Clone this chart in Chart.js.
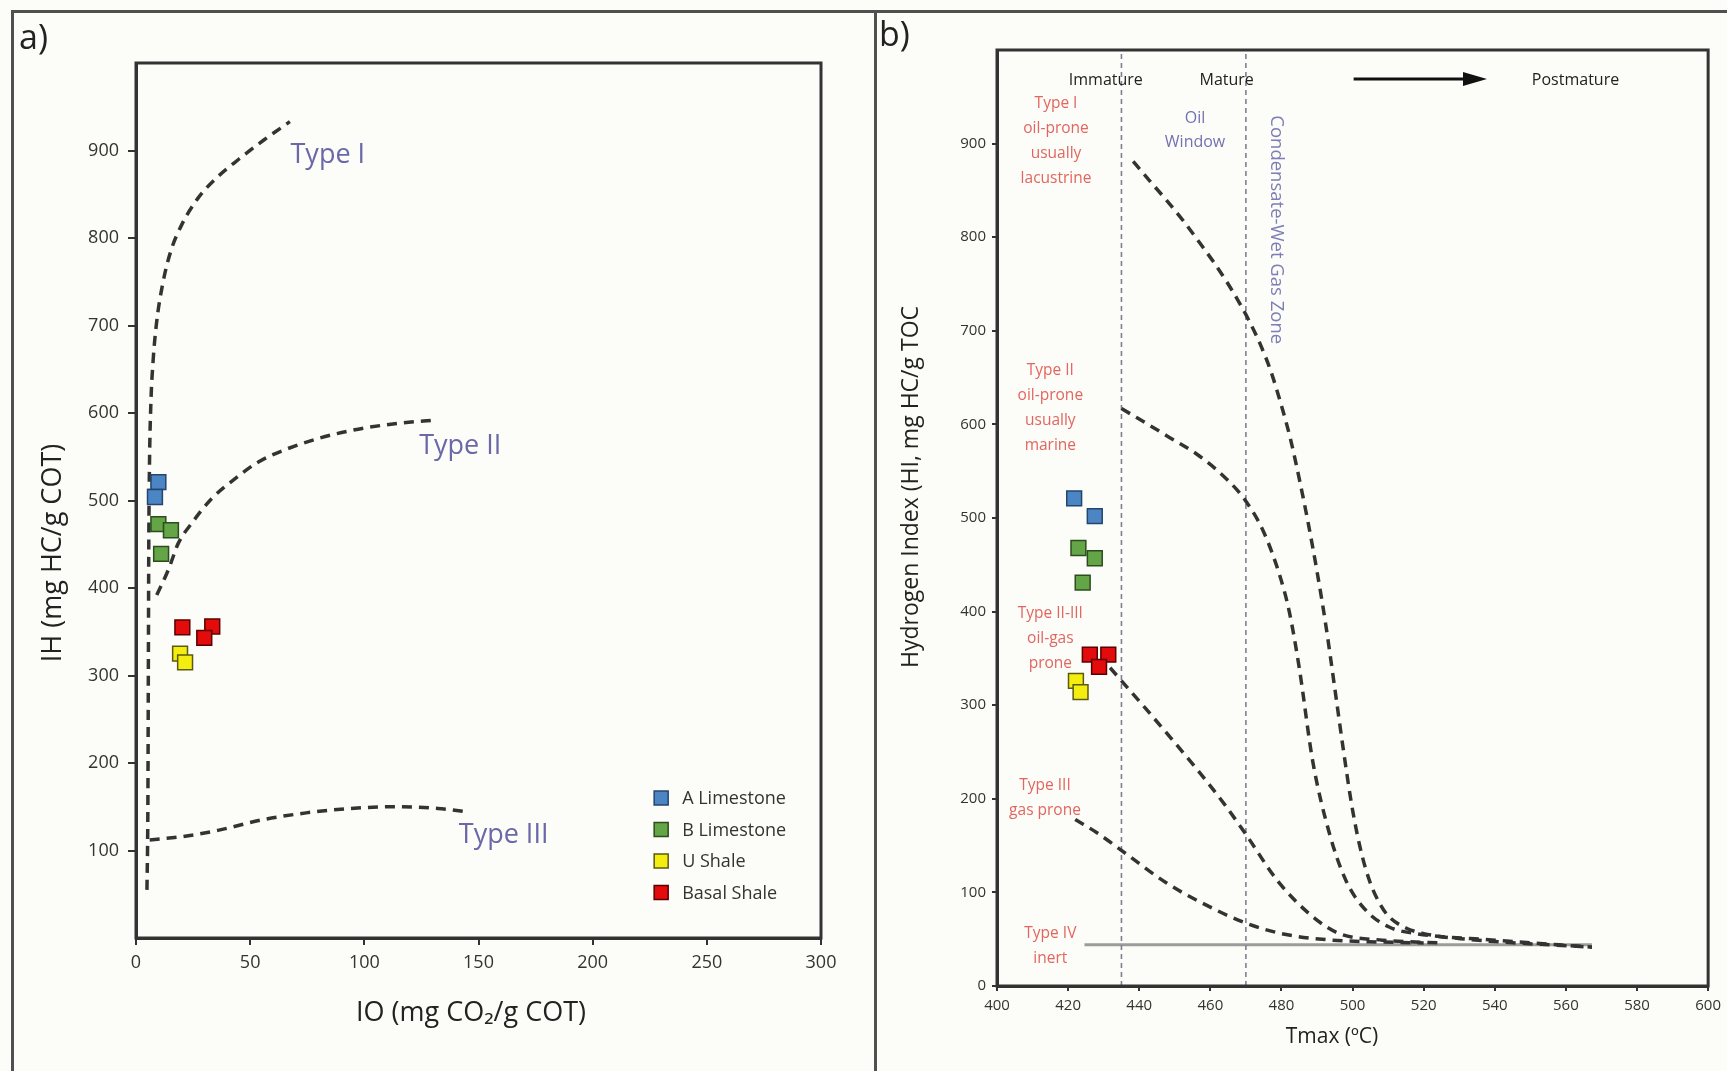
<!DOCTYPE html>
<html>
<head>
<meta charset="utf-8">
<script src="https://cdn.jsdelivr.net/npm/chart.js@4.4.1/dist/chart.umd.min.js"></script>
<style>
html, body { margin: 0; padding: 0; background: #fcfcf8; }
body { width: 1727px; height: 1071px; position: relative; overflow: hidden; font-family: "Open Sans", "Liberation Sans", sans-serif; }
#canvasA { position: absolute; left: 0; top: 0; }
#canvasB { position: absolute; left: 877px; top: 0; }
.rule { position: absolute; background: #505050; }
.plabel { position: absolute; font-size: 34px; line-height: 34px; color: #222; }
</style>
</head>
<body>
<canvas id="canvasA" width="874" height="1071"></canvas>
<canvas id="canvasB" width="850" height="1071"></canvas>
<div class="rule" style="left:11px;top:10px;width:1716px;height:3px;"></div>
<div class="rule" style="left:11px;top:10px;width:3px;height:1061px;"></div>
<div class="rule" style="left:874px;top:10px;width:3px;height:1061px;"></div>
<div class="plabel" style="left:19px;top:19px;">a)</div>
<div class="plabel" style="left:879px;top:16px;">b)</div>
<script>
// ================= DATA =================
const seriesNames = ['A Limestone', 'B Limestone', 'U Shale', 'Basal Shale'];

// Panel a: IH vs IO
const aLimestoneIO = [9.8, 8.3];
const aLimestoneIH = [521, 504];
const bLimestoneIO = [9.8, 15.3, 11.0];
const bLimestoneIH = [473, 466, 439];
const uShaleIO = [19.3, 21.5];
const uShaleIH = [325, 315];
const basalShaleIO = [20.3, 33.4, 29.9];
const basalShaleIH = [355, 356, 343];

const typeI_IO = [4.8, 5.2, 5.4, 5.6, 5.9, 6.5, 7.5, 9.0, 11.5, 15.0, 20.0, 27.0, 35.0, 45.0, 56.0, 67.4];
const typeI_IH = [55, 150, 300, 450, 540, 610, 660, 703, 745, 783, 815, 845, 868, 890, 912, 933];
const typeII_IO = [9.1, 14.2, 18.5, 24.4, 33.1, 43.4, 53.6, 70.4, 92.3, 114.2, 131.7];
const typeII_IH = [392, 421, 451, 474, 502, 525, 544, 563, 579, 588, 592];
const typeIII_IO = [6.0, 20.5, 35.9, 55.2, 74.5, 93.7, 113.0, 132.3, 145.9];
const typeIII_IH = [112, 116, 123, 135, 143, 148, 150, 148, 144];

const ioTicks = [0, 50, 100, 150, 200, 250, 300];
const ihTicks = [100, 200, 300, 400, 500, 600, 700, 800, 900];

// Panel b: HI vs Tmax
const aLimestoneTmax = [421.7, 427.5];
const aLimestoneHI = [521, 502];
const bLimestoneTmax = [422.9, 427.5, 424.1];
const bLimestoneHI = [468, 457, 431];
const uShaleTmax = [422.2, 423.5];
const uShaleHI = [326, 314];
const basalShaleTmax = [426.1, 431.3, 428.7];
const basalShaleHI = [354, 354, 341];

const curveI_Tmax = [438.3, 443.0, 448.0, 452.5, 457.0, 461.0, 465.0, 468.0, 471.0, 474.0, 477.0, 480.0, 482.5, 485.0, 487.5, 490.0, 492.5, 495.0, 497.5, 500.0, 502.5, 505.0, 507.5, 510.0, 515.0, 520.0, 532.0, 567.3];
const curveI_HI = [881, 860, 838, 817, 794, 773, 750, 731, 710, 686, 657, 620, 585, 542, 495, 443, 385, 318, 250, 188, 142, 110, 89, 75, 62, 56, 50, 41.5];
const curveII_Tmax = [435.0, 447.7, 457.0, 465.0, 470.0, 475.0, 479.4, 482.2, 485.0, 488.8, 493.5, 498.1, 503.7, 510.3, 517.8, 540.0, 567.3];
const curveII_HI = [617, 588, 566, 540, 518, 485, 440, 400, 340, 240, 163, 113, 81, 63, 56, 49, 41.5];
const curveIIIII_Tmax = [431.8, 441.0, 450.0, 457.0, 464.0, 470.0, 479.0, 488.8, 496.3, 508.4, 525.0];
const curveIIIII_HI = [340, 300, 260, 228, 194, 162, 112, 74, 56, 49, 46];
const curveIII_Tmax = [422.0, 428.0, 434.6, 447.7, 457.0, 470.1, 481.3, 494.4, 508.0, 520.0];
const curveIII_HI = [178, 164, 146, 110, 90, 67, 55, 49, 47, 46];
const typeIV_Tmax = [424.6, 567.3];
const typeIV_HI = [44, 44];
const zoneBoundsTmax = [435, 470];
const hiRange = [0, 1000];

const tmaxTicks = [400, 420, 440, 460, 480, 500, 520, 540, 560, 580, 600];
const hiTicks = [0, 100, 200, 300, 400, 500, 600, 700, 800, 900];

// ================= HELPERS =================
const FONT = '"Open Sans", "Liberation Sans", sans-serif';
Chart.defaults.font.family = FONT;
const pts = (xs, ys) => xs.map((x, i) => ({ x: x, y: ys[i] }));

const colors = [
  { fill: '#4c85c4', edge: '#24456e' },
  { fill: '#63a547', edge: '#2c4d1c' },
  { fill: '#f4ee10', edge: '#5a5a10' },
  { fill: '#e30b0b', edge: '#5a0000' }
];

function sampleSet(i, xs, ys) {
  return {
    label: seriesNames[i], data: pts(xs, ys), showLine: false,
    pointStyle: 'rect', pointRadius: 10.5, pointHoverRadius: 10.5,
    backgroundColor: colors[i].fill, borderColor: colors[i].edge, borderWidth: 1.5, order: 0
  };
}
function curveSet(label, xs, ys, extra) {
  return Object.assign({
    label: label, data: pts(xs, ys), showLine: true, pointRadius: 0, pointHoverRadius: 0,
    borderColor: '#333', borderWidth: 3.5, borderDash: [10, 7], cubicInterpolationMode: 'monotone',
    fill: false, order: 2
  }, extra || {});
}

const frameBox = {
  id: 'frameBox',
  afterDraw(chart, args, o) {
    const { ctx, chartArea: a } = chart;
    ctx.save();
    ctx.strokeStyle = o.color; ctx.lineWidth = o.width;
    ctx.strokeRect(a.left, a.top, a.right - a.left, a.bottom - a.top);
    ctx.restore();
  }
};

const textLayer = {
  id: 'textLayer',
  afterDraw(chart, args, o) {
    const ctx = chart.ctx, xs = chart.scales.x, ys = chart.scales.y;
    (o.items || []).forEach(t => {
      ctx.save();
      ctx.font = `${t.size}px ${FONT}`;
      ctx.fillStyle = t.color; ctx.textAlign = 'center'; ctx.textBaseline = 'middle';
      const px = t.px != null ? t.px : xs.getPixelForValue(t.x);
      const py = t.py != null ? t.py : ys.getPixelForValue(t.y);
      ctx.translate(px, py);
      if (t.rot) ctx.rotate(t.rot);
      t.lines.forEach((l, i) => ctx.fillText(l, 0, i * (t.lh || 0)));
      ctx.restore();
    });
    (o.arrows || []).forEach(a => {
      const x0 = xs.getPixelForValue(a.x0), x1 = xs.getPixelForValue(a.x1), y = ys.getPixelForValue(a.y);
      ctx.save();
      ctx.strokeStyle = a.color; ctx.fillStyle = a.color; ctx.lineWidth = a.width;
      ctx.beginPath(); ctx.moveTo(x0, y); ctx.lineTo(x1 - 20, y); ctx.stroke();
      ctx.beginPath(); ctx.moveTo(x1, y); ctx.lineTo(x1 - 24, y - 7); ctx.lineTo(x1 - 24, y + 7); ctx.closePath(); ctx.fill();
      ctx.restore();
    });
    if (o.legend) {
      const L = o.legend;
      const lx = xs.getPixelForValue(L.x), ly = ys.getPixelForValue(L.y);
      ctx.save();
      ctx.font = `${L.size}px ${FONT}`; ctx.textAlign = 'left'; ctx.textBaseline = 'middle';
      L.datasets.forEach((di, i) => {
        const ds = chart.data.datasets[di];
        const cy = ly + i * L.gap;
        ctx.fillStyle = ds.backgroundColor; ctx.strokeStyle = ds.borderColor; ctx.lineWidth = 1.5;
        ctx.fillRect(lx - L.box / 2, cy - L.box / 2, L.box, L.box);
        ctx.strokeRect(lx - L.box / 2, cy - L.box / 2, L.box, L.box);
        ctx.fillStyle = '#333';
        ctx.fillText(ds.label, lx + 21, cy + 1);
      });
      ctx.restore();
    }
  }
};

function axisX(min, max, tickVals, fontSize, tickLen, pad, height) {
  return {
    type: 'linear', min: min, max: max,
    afterBuildTicks: s => { s.ticks = tickVals.map(v => ({ value: v })); },
    afterFit: s => { s.height = height; },
    ticks: { autoSkip: false, maxRotation: 0, color: '#333', padding: pad, font: { size: fontSize } },
    grid: { drawOnChartArea: false, drawTicks: true, tickLength: tickLen, color: '#333', lineWidth: 2 },
    border: { display: true, color: '#333', width: 3 }
  };
}
function axisY(min, max, tickVals, fontSize, tickLen, pad, width) {
  return {
    type: 'linear', min: min, max: max,
    afterBuildTicks: s => { s.ticks = tickVals.map(v => ({ value: v })); },
    afterFit: s => { s.width = width; },
    ticks: { autoSkip: false, color: '#333', padding: pad, font: { size: fontSize } },
    grid: { drawOnChartArea: false, drawTicks: true, tickLength: tickLen, color: '#333', lineWidth: 2 },
    border: { display: true, color: '#333', width: 3 }
  };
}

// ================= CHART A =================
new Chart(document.getElementById('canvasA'), {
  type: 'scatter',
  data: {
    datasets: [
      sampleSet(0, aLimestoneIO, aLimestoneIH),
      sampleSet(1, bLimestoneIO, bLimestoneIH),
      sampleSet(2, uShaleIO, uShaleIH),
      sampleSet(3, basalShaleIO, basalShaleIH),
      curveSet('Type I', typeI_IO, typeI_IH),
      curveSet('Type II', typeII_IO, typeII_IH),
      curveSet('Type III', typeIII_IO, typeIII_IH)
    ]
  },
  options: {
    responsive: false, animation: false, devicePixelRatio: 1,
    layout: { padding: { left: 0, right: 53, top: 63, bottom: 33 } },
    scales: {
      x: axisX(0, 300, ioTicks, 18, 7, 7, 100),
      y: axisY(0, 1000, ihTicks, 18, 8, 9, 136)
    },
    plugins: {
      legend: { display: false }, tooltip: { enabled: false },
      frameBox: { color: '#333', width: 3 },
      textLayer: {
        items: [
          { x: 84, y: 895, lines: ['Type I'], size: 27, color: '#6a68a8' },
          { x: 142, y: 562, lines: ['Type II'], size: 27, color: '#6a68a8' },
          { x: 161, y: 117, lines: ['Type III'], size: 27, color: '#6a68a8' },
          { px: 471, py: 1013, lines: ['IO (mg CO\u2082/g COT)'], size: 27, color: '#222' },
          { px: 53, py: 553, rot: -Math.PI / 2, lines: ['IH (mg HC/g COT)'], size: 27, color: '#222' }
        ],
        legend: { x: 230, y: 160, gap: 31.5, box: 14, size: 18, datasets: [0, 1, 2, 3] }
      }
    }
  },
  plugins: [frameBox, textLayer]
});

// ================= CHART B =================
const boundStyle = { borderColor: '#7b8192', borderWidth: 1.6, borderDash: [5, 4], cubicInterpolationMode: 'default', tension: 0, order: 3 };
new Chart(document.getElementById('canvasB'), {
  type: 'scatter',
  data: {
    datasets: [
      sampleSet(0, aLimestoneTmax, aLimestoneHI),
      sampleSet(1, bLimestoneTmax, bLimestoneHI),
      sampleSet(2, uShaleTmax, uShaleHI),
      sampleSet(3, basalShaleTmax, basalShaleHI),
      curveSet('Type I', curveI_Tmax, curveI_HI),
      curveSet('Type II', curveII_Tmax, curveII_HI),
      curveSet('Type II-III', curveIIIII_Tmax, curveIIIII_HI),
      curveSet('Type III', curveIII_Tmax, curveIII_HI),
      curveSet('Type IV', typeIV_Tmax, typeIV_HI, { borderColor: '#9c9c9c', borderWidth: 3, borderDash: [], cubicInterpolationMode: 'default', tension: 0, order: 4 }),
      curveSet('Immature/Mature', [zoneBoundsTmax[0], zoneBoundsTmax[0]], hiRange, boundStyle),
      curveSet('Mature/Postmature', [zoneBoundsTmax[1], zoneBoundsTmax[1]], hiRange, boundStyle)
    ]
  },
  options: {
    responsive: false, animation: false, devicePixelRatio: 1,
    layout: { padding: { left: 0, right: 17, top: 50, bottom: 25 } },
    scales: {
      x: axisX(400, 600, tmaxTicks, 15, 5, 6, 60),
      y: axisY(0, 1000, hiTicks, 15, 5, 6, 120)
    },
    plugins: {
      legend: { display: false }, tooltip: { enabled: false },
      frameBox: { color: '#333', width: 3 },
      textLayer: {
        items: [
          { x: 430.6, y: 968, lines: ['Immature'], size: 16, color: '#222' },
          { x: 464.6, y: 968, lines: ['Mature'], size: 16, color: '#222' },
          { x: 562.7, y: 968, lines: ['Postmature'], size: 16, color: '#222' },
          { x: 416.6, y: 943, lines: ['Type I', 'oil-prone', 'usually', 'lacustrine'], lh: 25, size: 15.5, color: '#e2665f' },
          { x: 415, y: 657, lines: ['Type II', 'oil-prone', 'usually', 'marine'], lh: 25, size: 15.5, color: '#e2665f' },
          { x: 415, y: 398, lines: ['Type II-III', 'oil-gas', 'prone'], lh: 25, size: 15.5, color: '#e2665f' },
          { x: 413.5, y: 214, lines: ['Type III', 'gas prone'], lh: 25, size: 15.5, color: '#e2665f' },
          { x: 415, y: 56, lines: ['Type IV', 'inert'], lh: 25, size: 15.5, color: '#e2665f' },
          { x: 455.7, y: 927, lines: ['Oil', 'Window'], lh: 24, size: 16, color: '#7272b2' },
          { x: 478.6, y: 808, rot: Math.PI / 2, lines: ['Condensate-Wet Gas Zone'], size: 18.5, color: '#7e7eb6' },
          { px: 455, py: 1037, lines: ['Tmax (\u00baC)'], size: 21, color: '#222' },
          { px: 34, py: 487, rot: -Math.PI / 2, lines: ['Hydrogen Index (HI, mg HC/g TOC'], size: 23, color: '#222' }
        ],
        arrows: [{ x0: 500.3, x1: 537.8, y: 969, color: '#111', width: 3 }]
      }
    }
  },
  plugins: [frameBox, textLayer]
});
</script>
</body>
</html>
